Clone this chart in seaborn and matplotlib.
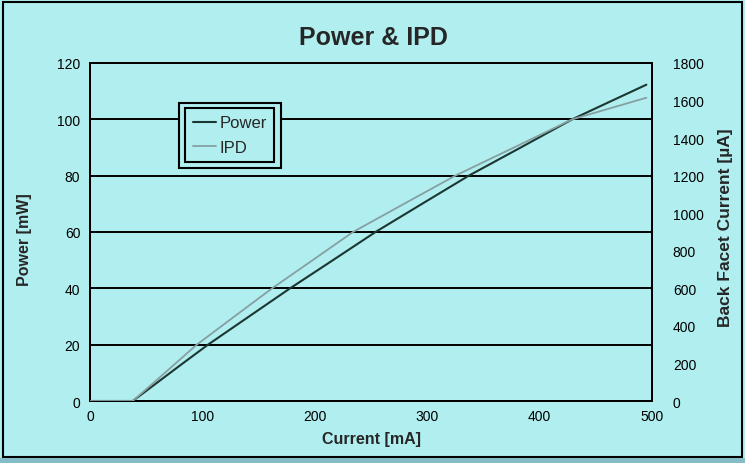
import pandas as pd
import matplotlib
matplotlib.use("Agg")
import matplotlib.pyplot as plt
from matplotlib.patches import Rectangle
import seaborn as sns

# 광출력 곡선 (Power, mW)
power_current = [0, 38, 60, 80, 105, 140, 178, 215, 254, 295, 337, 380, 429, 460, 495]
power_mw = [0, 0, 6.6, 12.6, 20, 29.6, 40, 49.7, 60, 69.9, 80, 89.3, 100, 105.8, 112.3]

# 모니터 PD 전류 (IPD, uA)
ipd_current = [0, 38, 60, 95, 130, 162, 200, 234, 280, 325, 380, 429, 460, 495]
ipd_ua = [0, 0, 115, 300, 457, 600, 758, 900, 1052, 1200, 1358, 1500, 1554, 1615]

x_ticks = [0, 100, 200, 300, 400, 500]
left_ticks = [0, 20, 40, 60, 80, 100, 120]
right_ticks = [0, 200, 400, 600, 800, 1000, 1200, 1400, 1600, 1800]

bg = "#b0eef0"
power_color = "#1c3630"
ipd_color = "#86a0a2"

sns.set_style("white")
plt.rcParams['font.family'] = ['Liberation Sans', 'DejaVu Sans']

W, H = 745, 464
fig = plt.figure(figsize=(7.45, 4.64), dpi=100, facecolor=bg)
ax = fig.add_axes([90 / W, 1 - 402 / H, 562 / W, 338 / H])
ax.set_facecolor(bg)
ax2 = ax.twinx()

power_df = pd.DataFrame({'Current': power_current, 'Power': power_mw})
ipd_df = pd.DataFrame({'Current': ipd_current, 'IPD': ipd_ua})

sns.lineplot(data=power_df, x='Current', y='Power', ax=ax, color=power_color,
             linewidth=1.5, label='Power', legend=False)
sns.lineplot(data=ipd_df, x='Current', y='IPD', ax=ax2, color=ipd_color,
             linewidth=1.3, label='IPD', legend=False, zorder=3)

ax.set_xlim(0, 500)
ax.set_ylim(0, 120)
ax2.set_ylim(0, 1800)
ax.set_xticks(x_ticks)
ax.set_yticks(left_ticks)
ax2.set_yticks(right_ticks)
ax.yaxis.grid(True, color='black', linewidth=1.4)
ax.xaxis.grid(False)
ax2.grid(False)

for a in (ax, ax2):
    for s in a.spines.values():
        s.set_color('black')
        s.set_linewidth(1.4)

ax.tick_params(axis='both', length=0, labelsize=10, colors='black')
ax.tick_params(axis='y', pad=7)
ax.tick_params(axis='x', pad=6)
ax2.tick_params(axis='y', length=0, labelsize=10, pad=15, colors='black')

ax.set_xlabel('Current [mA]', fontweight='bold', fontsize=11.5)
ax.xaxis.set_label_coords(0.5, -0.088)
ax.set_ylabel('Power [mW]', fontweight='bold', fontsize=11.5)
ax.yaxis.set_label_coords(-0.103, 0.48)
ax2.set_ylabel('Back Facet Current [\u00b5A]', fontweight='bold', fontsize=12.5)
ax2.yaxis.set_label_coords(1.117, 0.515)

fig.text(373 / W, 1 - 38 / H, 'Power & IPD', ha='center', va='center',
         fontweight='bold', fontsize=18)

# 범례 (이중 테두리)
handles = ax.get_lines()[:1] + ax2.get_lines()[:1]
outer = Rectangle((179 / W, 1 - 169 / H), 102 / W, 65 / H, transform=fig.transFigure,
                  facecolor=bg, edgecolor='black', linewidth=1.5, zorder=4)
ax2.add_artist(outer)
leg = ax2.legend(handles, ['Power', 'IPD'], loc='upper left',
                 bbox_to_anchor=(185 / W, 1 - 109 / H), bbox_transform=fig.transFigure,
                 frameon=True, fancybox=False, facecolor=bg, edgecolor='black',
                 fontsize=12, handlelength=1.4, handletextpad=0.2, borderpad=0.45,
                 labelspacing=0.55, borderaxespad=0)
leg.get_frame().set_linewidth(1.5)
leg.get_frame().set_alpha(None)
leg.set_zorder(5)

# 그림 테두리
fig.patches.append(Rectangle((3 / W, 1 - 458 / H), 739 / W, 455 / H, transform=fig.transFigure,
                             fill=False, edgecolor='black', linewidth=1.5))
fig.patches.append(Rectangle((0, 0), 1, 5 / H, transform=fig.transFigure,
                             facecolor='#84bcc8', edgecolor='none'))

fig.savefig('out.png', dpi=100, facecolor=bg)
